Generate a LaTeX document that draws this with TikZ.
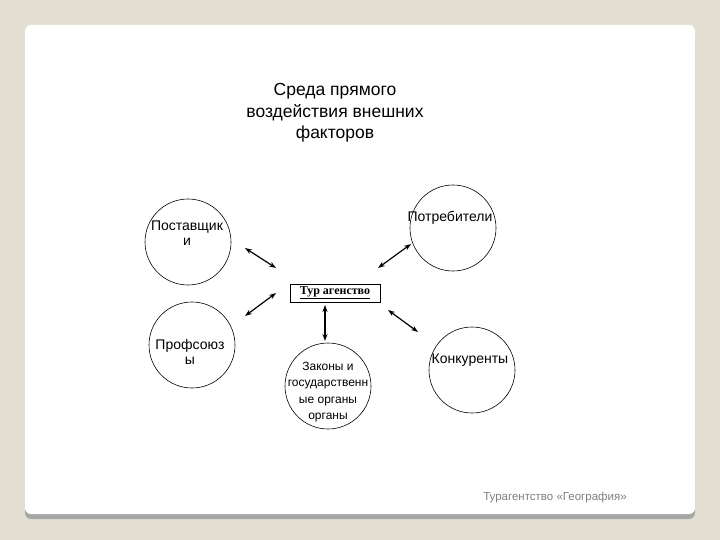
\documentclass[tikz,border=0pt]{standalone}
\usepackage{fontspec}
\setmainfont{Liberation Sans}
\newfontfamily\serifru{Liberation Serif}
\usetikzlibrary{arrows.meta}
\begin{document}
\begin{tikzpicture}[x=1pt,y=-1pt,
  circ/.style={draw,circle,minimum size=86pt,inner sep=0pt,line width=0.6pt},
  lbl/.style={align=center,font=\fontsize{14}{15}\selectfont},
  dbl/.style={{Stealth[length=7pt,width=5pt]}-{Stealth[length=7pt,width=5pt]},line width=1.2pt}]
\useasboundingbox (0,0) rectangle (720,540);
\fill[fill={rgb,255:red,227;green,223;blue,210}] (0,0) rectangle (720,540);
\fill[gray!70,rounded corners=6pt] (25,28) rectangle (695,519);
\fill[white,rounded corners=6pt] (25,25) rectangle (695,514);
\node[lbl,font=\fontsize{17.5}{21.5}\selectfont] (title) at (335,113) {Среда прямого\\воздействия внешних\\факторов};
\node[circ] (c1) at (188,242) {};
\node[circ] (c2) at (453,228) {};
\node[circ] (c3) at (192,345) {};
\node[circ] (c4) at (328,386) {};
\node[circ] (c5) at (472,370) {};
\node[lbl] (t1) at (187,233) {Поставщик\\и};
\node[lbl] (t2) at (450,218) {Потребители};
\node[lbl] (t3) at (190,352) {Профсоюз\\ы};
\node[lbl,font=\fontsize{12}{16.5}\selectfont] (t4) at (328,392) {Законы и\\государственн\\ые органы\\органы};
\node[lbl] (t5) at (470,360) {Конкуренты};
\node[draw,minimum width=90pt,minimum height=18pt,inner sep=1pt,font=\serifru\bfseries\fontsize{12}{13}\selectfont] (ag) at (335,293) {\underline{Тур агенство}};
\coordinate (a1) at (245,248); \coordinate (b1) at (276,268);
\coordinate (a2) at (378,268); \coordinate (b2) at (411,244);
\coordinate (a3) at (245,316); \coordinate (b3) at (276,293);
\coordinate (a4) at (325,305); \coordinate (b4) at (325,341);
\coordinate (a5) at (388,310); \coordinate (b5) at (418,332);
\draw[dbl] (a1)--(b1); \draw[dbl] (a2)--(b2); \draw[dbl] (a3)--(b3);
\draw[dbl] (a4)--(b4); \draw[dbl] (a5)--(b5);
\node[text=gray,font=\fontsize{11.5}{13}\selectfont] (ft) at (555,498) {Турагентство «География»};
\end{tikzpicture}
\end{document}
